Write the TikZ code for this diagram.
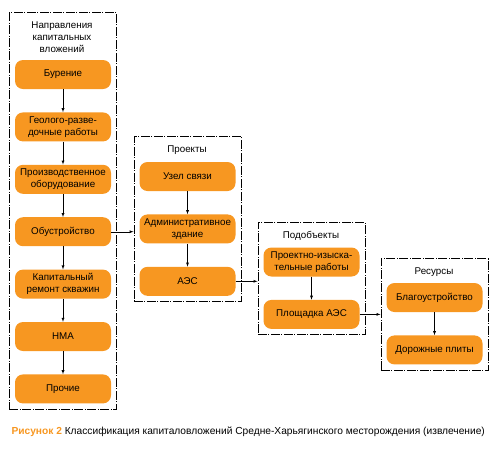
\documentclass[tikz,border=0pt]{standalone}
\usepackage{fontspec}
\setmainfont{Liberation Sans}
\usetikzlibrary{positioning,fit}
\definecolor{boxorange}{RGB}{247,151,33}
\begin{document}
\begin{tikzpicture}[x=1pt, y=-1pt, node distance=23pt,
    every node/.style={font=\fontsize{9.8}{12}\selectfont},
    item/.style={fill=boxorange, rounded corners=8pt, minimum width=96pt, minimum height=29pt, inner sep=1pt, align=center},
    frame/.style={draw, semithick, dash pattern=on 9pt off 1.5pt on 1pt off 1.5pt, inner sep=5.5pt},
    link/.style={-latex, thin}]
    \useasboundingbox (0,0) rectangle (503,448);
    % column 1
    \node [align=center] (t1) at (62,37) {Направления\\капитальных\\вложений};
    \node [item] (a1) at (63,74.5) {Бурение};
    \node [item, below=of a1] (a2) {Геолого-разве-\\дочные работы};
    \node [item, below=of a2] (a3) {Производственное\\оборудование};
    \node [item, below=of a3] (a4) {Обустройство};
    \node [item, below=of a4] (a5) {Капитальный\\ремонт скважин};
    \node [item, below=of a5] (a6) {НМА};
    \node [item, below=of a6] (a7) {Прочие};
    \node [frame, fit=(t1)(a1)(a7)] (f1) {};
    % column 2
    \node (t2) at (187,150) {Проекты};
    \node [item] (b1) at (187.5,176.5) {Узел связи};
    \node [item, below=of b1] (b2) {Административное\\здание};
    \node [item, below=of b2] (b3) {АЭС};
    \node [frame, fit=(t2)(b1)(b3)] (f2) {};
    % column 3
    \node (t3) at (311,236) {Подобъекты};
    \node [item] (c1) at (311.5,262) {Проектно-изыска-\\тельные работы};
    \node [item, below=of c1] (c2) {Площадка АЭС};
    \node [frame, fit=(t3)(c1)(c2)] (f3) {};
    % column 4
    \node (t4) at (434,272) {Ресурсы};
    \node [item] (d1) at (434.5,297.5) {Благоустройство};
    \node [item, below=of d1] (d2) {Дорожные плиты};
    \node [frame, fit=(t4)(d1)(d2)] (f4) {};
    % arrows
    \foreach \i/\j in {a1/a2,a2/a3,a3/a4,a4/a5,a5/a6,a6/a7,b1/b2,b2/b3,c1/c2,d1/d2}
        \draw [link] (\i) -- (\j);
    \draw [link] (a4.east) -- (a4.east -| f2.west);
    \draw [link] (b3.east) -- (b3.east -| f3.west);
    \draw [link] (c2.east) -- (c2.east -| f4.west);
    % caption
    \node [anchor=west, font=\fontsize{10.2}{12}\selectfont] (cap) at (8,432) {\textcolor{boxorange}{\textbf{Рисунок 2}} Классификация капиталовложений Средне-Харьягинского месторождения (извлечение)};
\end{tikzpicture}
\end{document}
